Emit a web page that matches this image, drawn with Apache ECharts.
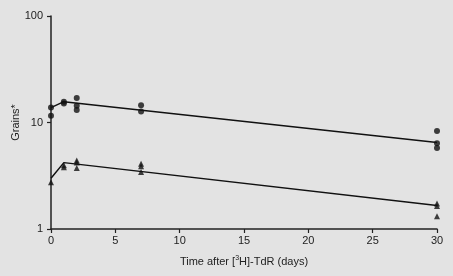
<!DOCTYPE html>
<html><head><meta charset="utf-8">
<script src="https://cdn.jsdelivr.net/npm/echarts@6/dist/echarts.min.js"></script>
<style>html,body{margin:0;padding:0;background:#e3e3e3;}#c{width:453px;height:276px;}</style>
</head><body><div id="c"></div>
<script>
// Data
const circleDays = [0, 0, 1, 1, 2, 2, 2, 7, 7, 30, 30, 30];
const circleGrains = [13.8, 11.6, 15.7, 15.1, 17.0, 14.4, 13.1, 14.5, 12.7, 8.3, 6.4, 5.75];
const triDays = [0, 1, 1, 2, 2, 2, 7, 7, 7, 30, 30, 30];
const triGrains = [2.75, 3.96, 3.8, 4.4, 4.2, 3.74, 4.11, 3.88, 3.43, 1.74, 1.64, 1.32];
const fitDays = [0, 1, 30];
const circleFit = [13.8, 15.7, 6.5];
const triFit = [3.0, 4.2, 1.66];
const xTicks = [0, 5, 10, 15, 20, 25, 30];
const yTicks = [1, 10, 100];

const pairs = (xs, ys) => xs.map((x, i) => [x, ys[i]]);
const font = 'Liberation Sans, Arial, sans-serif';
const chart = echarts.init(document.getElementById('c'), null, {renderer: 'canvas'});
chart.setOption({
  backgroundColor: '#e3e3e3',
  animation: false,
  grid: {left: 51, right: 16, top: 16, bottom: 47, containLabel: false, outerBoundsMode: 'none'},
  xAxis: {
    type: 'value', min: 0, max: 30, interval: 5,
    name: 'Time after [{sup|3}H]-TdR (days)',
    nameLocation: 'middle', nameGap: 26, nameMoveOverlap: false,
    nameTextStyle: {fontFamily: font, fontSize: 11, color: '#222',
      rich: {sup: {fontSize: 7, verticalAlign: 'top', padding: [0, 0, 6, 0], fontFamily: font, color: '#222'}}},
    axisLine: {lineStyle: {color: '#222', width: 1.5}},
    axisTick: {length: 4, lineStyle: {color: '#222', width: 1.2}},
    axisLabel: {fontFamily: font, fontSize: 11, color: '#222', margin: 6,
      formatter: v => xTicks.includes(v) ? String(v) : ''},
    splitLine: {show: false}
  },
  yAxis: {
    type: 'log', logBase: 10, min: 1, max: 100,
    name: 'Grains*', nameLocation: 'middle', nameGap: 30, nameMoveOverlap: false,
    nameTextStyle: {fontFamily: font, fontSize: 11, color: '#222'},
    axisLine: {show: true, lineStyle: {color: '#222', width: 1.5}},
    axisTick: {show: true, length: 4, lineStyle: {color: '#222', width: 1.2}},
    minorTick: {show: false},
    axisLabel: {fontFamily: font, fontSize: 11, color: '#222', margin: 8,
      formatter: v => yTicks.includes(Math.round(v)) ? String(Math.round(v)) : ''},
    splitLine: {show: false}
  },
  series: [
    {type: 'line', data: pairs(fitDays, circleFit), symbol: 'none',
      lineStyle: {color: '#111', width: 1.5}},
    {type: 'line', data: pairs(fitDays, triFit), symbol: 'none',
      lineStyle: {color: '#111', width: 1.5}},
    {type: 'scatter', data: pairs(circleDays, circleGrains), symbol: 'circle', symbolSize: 6,
      itemStyle: {color: '#111'}},
    {type: 'scatter', data: pairs(triDays, triGrains), symbol: 'triangle', symbolSize: 6,
      itemStyle: {color: '#111'}}
  ]
});
</script></body></html>
